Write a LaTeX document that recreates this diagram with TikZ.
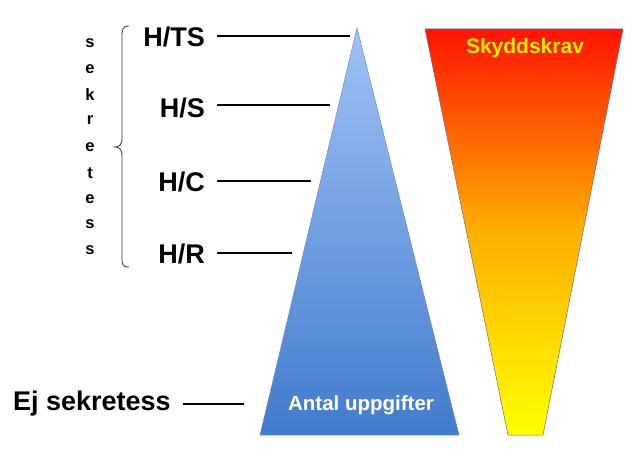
\documentclass[tikz,border=0pt]{standalone}
\usepackage{fontspec}
\setmainfont{Liberation Sans}
\begin{document}
\begin{tikzpicture}[x=1pt,y=-1pt,
  lvl/.style={font=\bfseries\fontsize{27}{30}\selectfont, anchor=east, inner sep=0pt},
  lvline/.style={line width=1.4pt, black},
  vletter/.style={font=\bfseries\fontsize{16.5}{18}\selectfont, inner sep=0pt}]
\useasboundingbox (0,0) rectangle (635,460);
% blue triangle
\shade[top color={rgb,255:red,160;green,194;blue,247}, bottom color={rgb,255:red,66;green,123;blue,204}, draw={rgb,255:red,110;green,140;blue,190}, line width=0.5pt]
  (357,28) -- (459,435) -- (260,435) -- cycle;
% red-yellow trapezoid
\shade[top color={rgb,255:red,255;green,20;blue,0}, bottom color={rgb,255:red,255;green,255;blue,0}, middle color={rgb,255:red,255;green,175;blue,0}, draw={rgb,255:red,120;green,100;blue,140}, line width=0.5pt]
  (425,29) -- (623,29) -- (543,435) -- (508,435) -- cycle;
\node[font=\bfseries\fontsize{21}{24}\selectfont, text={rgb,255:red,250;green,235;blue,0}] (sk) at (525,48) {Skyddskrav};
\node[font=\bfseries\fontsize{20.5}{24}\selectfont, text=white] (au) at (361,405) {Antal uppgifter};
% labels
\node[lvl] (ts) at (205,37) {H/TS};
\node[lvl] (s) at (205,108) {H/S};
\node[lvl] (c) at (205,182) {H/C};
\node[lvl] (r) at (205,254) {H/R};
\node[lvl] (ej) at (171,404) {Ej sekretess};
\coordinate (ets) at (350,36);
\coordinate (es) at (330,105);
\coordinate (ec) at (311,181);
\coordinate (er) at (292,253);
\coordinate (eej) at (244,404);
\draw[lvline] ([xshift=12pt]ts.east |- ets) -- (ets);
\draw[lvline] ([xshift=12pt]s.east |- es) -- (es);
\draw[lvline] ([xshift=12pt]c.east |- ec) -- (ec);
\draw[lvline] ([xshift=12pt]r.east |- er) -- (er);
\draw[lvline] ([xshift=12pt]ej.east |- eej) -- (eej);
% brace
\draw[line width=0.8pt, black!80] (129,26) .. controls (122,26) and (122,30) .. (122,38)
  -- (122,138) .. controls (122,145) and (119,147) .. (115,147)
  .. controls (119,147) and (122,149) .. (122,156)
  -- (122,256) .. controls (122,264) and (122,267) .. (129,267);
% vertical word
\foreach \ch/\yy [count=\i] in {s/43,e/69,k/95,r/120,e/147,t/173,e/199,s/224,s/250}
  \node[vletter] (v\i) at (90,\yy) {\ch};
\end{tikzpicture}
\end{document}
